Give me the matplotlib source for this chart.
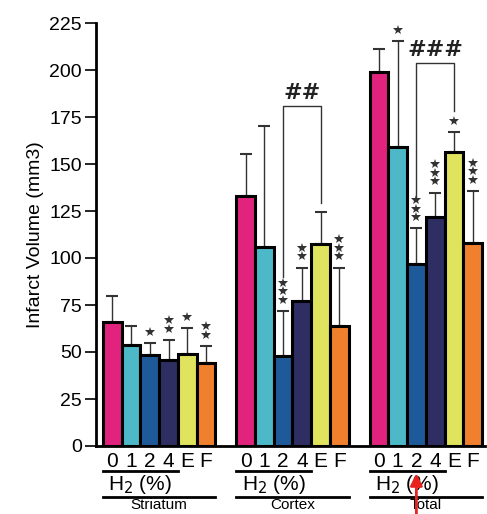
import matplotlib.pyplot as plt
import matplotlib.transforms as mtransforms
import numpy as np

plt.rcParams["font.family"] = ["Liberation Sans", "DejaVu Sans"]

groups = ["Striatum", "Cortex", "Total"]
bar_labels = ["0", "1", "2", "4", "E", "F"]
colors = ["#E2237E", "#4DB8C7", "#1E5A9A", "#2E2E62", "#E0E35E", "#F07F2E"]

# mean and upper error (bar top + sd) per group
means = [
    [66.0, 53.6, 48.3, 45.6, 49.2, 44.2],
    [132.9, 105.8, 47.8, 77.0, 107.6, 63.7],
    [198.7, 158.9, 96.6, 122.0, 156.6, 107.9],
]
err_top = [
    [79.6, 64.0, 54.8, 56.3, 62.8, 53.2],
    [155.3, 170.4, 71.7, 94.8, 124.4, 94.8],
    [211.0, 215.5, 115.7, 134.7, 166.8, 135.5],
]
# number of significance stars above each bar
stars = [
    [0, 0, 1, 2, 1, 2],
    [0, 0, 3, 2, 0, 3],
    [0, 1, 3, 3, 1, 3],
]
# brackets: (group, left bar, right bar, left leg bottom, top, right leg bottom, text)
brackets = [
    (1, 2, 4, 89.7, 181.0, 129.0, "##"),
    (2, 2, 4, 132.3, 203.6, 178.3, "###"),
]

group_step = 7.11

fig = plt.figure(figsize=(4.87, 5.14), dpi=100)
ax = fig.add_axes([96 / 487, 68 / 514, 389 / 487, 423 / 514])

for g in range(3):
    x = g * group_step + np.arange(6)
    m = np.array(means[g])
    e = np.array(err_top[g]) - m
    ax.bar(x, m, width=1.0, color=colors, edgecolor="black", linewidth=2.2, zorder=2)
    ax.errorbar(x, m, yerr=[np.zeros(6), e], fmt="none", ecolor="#333333",
                elinewidth=1.0, capsize=4, capthick=1.5, zorder=1)
    for i in range(6):
        for k in range(stars[g][i]):
            ax.plot(x[i], err_top[g][i] + 6 + k * 4.6, marker="*", color="#333333",
                    markersize=7, markeredgewidth=0, zorder=3)

for g, i0, i1, yl, yt, yr, txt in brackets:
    x0 = g * group_step + i0
    x1 = g * group_step + i1
    ax.plot([x0, x0, x1, x1], [yl, yt, yt, yr], color="#333333", lw=1.0, zorder=1)
    ax.text((x0 + x1) / 2, yt + 1, txt, ha="center", va="bottom", fontsize=16,
            family="DejaVu Serif", style="italic", weight="bold", color="#222222")

ax.set_xlim(-0.87, 19.88)
ax.set_ylim(0, 225)
ax.set_yticks(np.arange(0, 226, 25))
ax.tick_params(axis="y", labelsize=14, length=8, width=1.2, pad=2)
ax.tick_params(axis="x", length=0, labelsize=15, pad=4)

xt = [g * group_step + i for g in range(3) for i in range(6)]
ax.set_xticks(xt)
ax.set_xticklabels(bar_labels * 3)

for s in ["top", "right"]:
    ax.spines[s].set_visible(False)
ax.spines["left"].set_linewidth(2)
ax.spines["bottom"].set_linewidth(2)

ax.set_ylabel("Infarct Volume (mm3)", fontsize=14, labelpad=4)

trans = mtransforms.blended_transform_factory(ax.transData, ax.transAxes)
for g in range(3):
    off = g * group_step
    ax.plot([off - 0.5, off + 3.5], [-0.059, -0.059], color="black", lw=2,
            transform=trans, clip_on=False)
    ax.text(off + 1.5, -0.092, "H$_2$ (%)", ha="center", va="center", fontsize=15,
            transform=trans)
    ax.plot([off - 0.5, off + 5.5], [-0.12, -0.12], color="black", lw=2,
            transform=trans, clip_on=False)
    ax.text(off + 2.5, -0.123, groups[g], ha="center", va="top", fontsize=11,
            transform=trans)

# red arrow pointing at the 2% H2 bar of the Total group
ax.annotate("", xy=(2 * group_step + 2, -0.058), xycoords=trans,
            xytext=(2 * group_step + 2, -0.17), textcoords=trans,
            arrowprops=dict(arrowstyle="-|>", color="#E8231F", lw=2,
                            mutation_scale=18))

fig.savefig("out.png", dpi=100)
